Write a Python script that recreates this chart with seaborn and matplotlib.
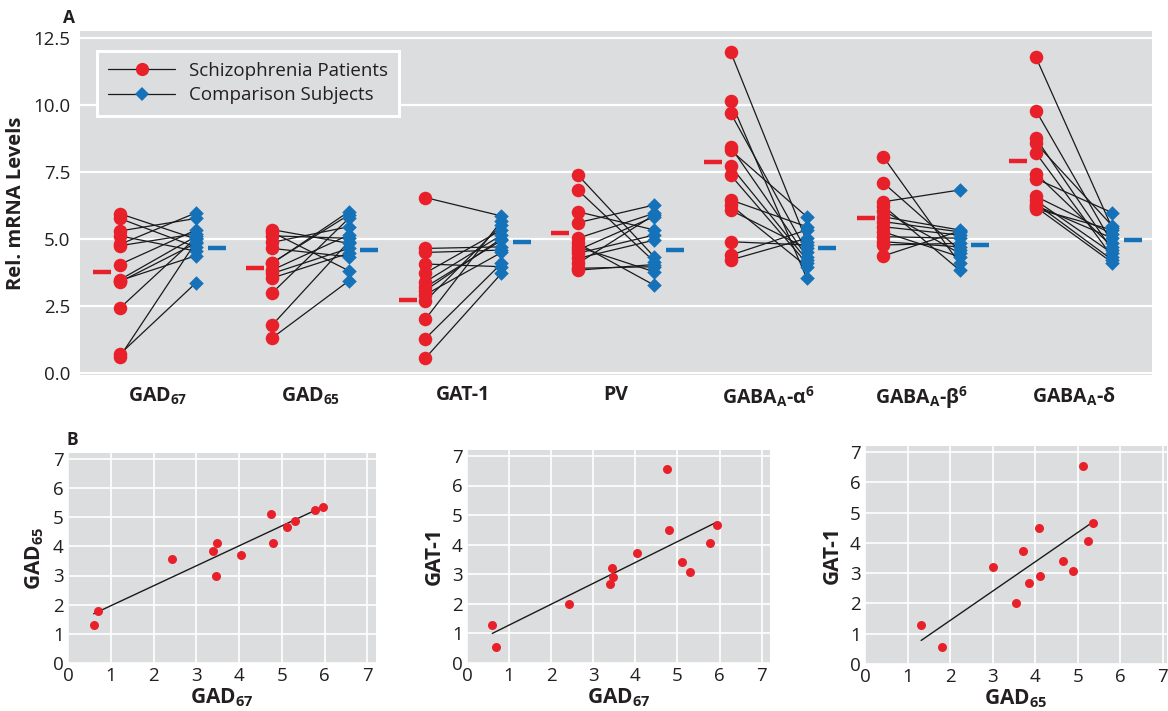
import numpy as np
import pandas as pd
import matplotlib
matplotlib.use("Agg")
import matplotlib.pyplot as plt
import seaborn as sns
from matplotlib.lines import Line2D

# ---------------- data ----------------
genes = ["GAD$_\\mathbf{67}$", "GAD$_\\mathbf{65}$", "GAT-1", "PV",
         "GABA$_\\mathbf{A}$-α$^\\mathbf{6}$", "GABA$_\\mathbf{A}$-β$^\\mathbf{6}$",
         "GABA$_\\mathbf{A}$-δ"]

# schizophrenia patients (subject order shared by the scatter panels)
gad67_pat = [0.60, 0.70, 2.42, 3.40, 3.45, 3.48, 4.05, 4.75, 4.80, 5.12, 5.30, 5.77, 5.95]
gad65_pat = [1.32, 1.80, 3.55, 3.85, 3.00, 4.12, 3.72, 5.12, 4.10, 4.65, 4.88, 5.25, 5.35]
gat1_pat = [1.28, 0.55, 2.00, 2.68, 3.20, 2.92, 3.73, 6.55, 4.50, 3.40, 3.08, 4.07, 4.65]
pv_pat = [7.39, 6.83, 6.02, 5.61, 5.03, 4.84, 4.71, 4.59, 4.47, 4.28, 4.09, 3.91, 3.84]
alpha_pat = [11.99, 10.16, 9.71, 8.44, 8.32, 7.72, 7.39, 6.46, 6.27, 6.08, 4.90, 4.40, 4.22]
beta_pat = [8.07, 7.10, 6.39, 6.24, 6.06, 5.83, 5.65, 5.46, 5.27, 5.09, 4.90, 4.78, 4.37]
delta_pat = [11.78, 9.79, 8.76, 8.57, 8.21, 7.44, 7.25, 6.59, 6.44, 6.32, 6.25, 6.19, 6.13]

# matched comparison subjects (same order as the patients above)
gad67_cmp = [4.90, 3.37, 5.05, 4.85, 4.38, 5.10, 5.34, 5.20, 5.98, 4.55, 5.77, 4.70, 5.00]
gad65_cmp = [3.44, 4.90, 4.47, 5.15, 5.77, 5.90, 4.65, 5.03, 6.02, 4.34, 5.46, 3.82, 4.84]
gat1_cmp = [4.09, 3.72, 5.68, 5.52, 4.95, 4.50, 5.34, 5.86, 4.59, 5.15, 5.02, 3.97, 4.71]
pv_cmp = [4.34, 4.16, 5.34, 6.27, 5.96, 3.28, 3.78, 5.84, 5.15, 4.96, 5.90, 3.97, 4.05]
alpha_cmp = [4.90, 3.53, 4.53, 4.34, 5.83, 4.22, 4.09, 5.46, 3.97, 4.65, 4.78, 5.34, 5.03]
beta_cmp = [4.09, 4.59, 6.83, 3.84, 4.47, 5.34, 5.27, 5.15, 4.34, 5.03, 4.71, 4.84, 5.30]
delta_cmp = [5.40, 4.84, 4.59, 5.49, 4.34, 4.71, 5.98, 5.19, 4.47, 4.22, 5.03, 4.12, 5.34]

# group means shown as short dashes
pat_means = [3.78, 3.91, 2.72, 5.21, 7.86, 5.80, 7.92]
cmp_means = [4.65, 4.58, 4.90, 4.59, 4.65, 4.78, 4.97]

pat_all = [gad67_pat, gad65_pat, gat1_pat, pv_pat, alpha_pat, beta_pat, delta_pat]
cmp_all = [gad67_cmp, gad65_cmp, gat1_cmp, pv_cmp, alpha_cmp, beta_cmp, delta_cmp]

# ---------------- style ----------------
RED = "#e8202a"
BLUE = "#1572b8"
BG = "#dcdddf"
TXT = "#231f20"

sns.set_theme(style="darkgrid")
plt.rcParams["font.family"] = ["Open Sans", "DejaVu Sans"]
plt.rcParams["mathtext.fontset"] = "custom"
plt.rcParams["mathtext.rm"] = "Open Sans"
plt.rcParams["mathtext.bf"] = "Open Sans:bold"
plt.rcParams["mathtext.it"] = "Open Sans:italic"
plt.rcParams["axes.facecolor"] = BG
plt.rcParams["grid.color"] = "white"
plt.rcParams["text.color"] = TXT
plt.rcParams["xtick.color"] = TXT
plt.rcParams["ytick.color"] = TXT
plt.rcParams["axes.labelcolor"] = TXT

W, H = 1168, 711
fig = plt.figure(figsize=(W / 100, H / 100), dpi=100)

def rect(l, t, r, b):
    return [l / W, 1 - b / H, (r - l) / W, (b - t) / H]

# ---------------- panel A ----------------
axA = fig.add_axes(rect(80, 31, 1152, 375))
P_OFF, C_OFF = -0.25, 0.25
rows = []
for gi in range(len(genes)):
    for si, (pv_, cv_) in enumerate(zip(pat_all[gi], cmp_all[gi])):
        rows.append(dict(pair=gi * 100 + si, grp="Patients", x=gi + P_OFF, val=pv_))
        rows.append(dict(pair=gi * 100 + si, grp="Comparison", x=gi + C_OFF, val=cv_))
long = pd.DataFrame(rows)

sns.lineplot(data=long, x="x", y="val", units="pair", estimator=None,
             color="#1a1a1a", lw=0.9, ax=axA, legend=False, zorder=2)
sns.scatterplot(data=long[long.grp == "Patients"], x="x", y="val", color=RED,
                marker="o", s=95, linewidth=0, ax=axA, zorder=3, legend=False)
sns.scatterplot(data=long[long.grp == "Comparison"], x="x", y="val", color=BLUE,
                marker="D", s=55, linewidth=0, ax=axA, zorder=3, legend=False)

means = pd.DataFrame(dict(gi=np.arange(len(genes)), pm=pat_means, cm=cmp_means))
means["px"] = means.gi - 0.365
means["cx"] = means.gi + 0.385
sns.scatterplot(data=means, x="px", y="pm", marker="_", s=150, linewidth=3.2,
                color=RED, ax=axA, legend=False, zorder=3)
sns.scatterplot(data=means, x="cx", y="cm", marker="_", s=150, linewidth=3.2,
                color=BLUE, ax=axA, legend=False, zorder=3)

axA.set_xlim(-0.51, 6.51)
axA.set_ylim(-0.07, 12.76)
axA.set_yticks(np.arange(0, 12.6, 2.5))
axA.set_yticklabels([f"{v:.1f}" for v in np.arange(0, 12.6, 2.5)], fontsize=13.5)
axA.set_xticks(range(len(genes)))
axA.set_xticklabels(genes, fontsize=14, fontweight="bold")
axA.grid(axis="x", visible=False)
axA.grid(axis="y", color="white", lw=1.6)
axA.tick_params(length=0, pad=7)
axA.set_xlabel("")
axA.set_ylabel("Rel. mRNA Levels", fontsize=14.5, fontweight="bold", labelpad=5)
for s in axA.spines.values():
    s.set_visible(False)

handles = [Line2D([0], [0], color="#1a1a1a", lw=0.9, marker="o", markersize=9.5,
                  markerfacecolor=RED, markeredgewidth=0),
           Line2D([0], [0], color="#1a1a1a", lw=0.9, marker="D", markersize=7.5,
                  markerfacecolor=BLUE, markeredgewidth=0)]
leg = axA.legend(handles, ["Schizophrenia Patients", "Comparison Subjects"],
                 loc="upper left", bbox_to_anchor=(0.0156, 0.943), borderaxespad=0,
                 fontsize=13.5, handlelength=3.6, handletextpad=0.7, labelspacing=0.35,
                 borderpad=0.6, fancybox=False, framealpha=1, facecolor=BG,
                 edgecolor="white")
leg.get_frame().set_linewidth(2.2)

fig.text(63 / W, 1 - 18 / H, "A", fontsize=12.5, fontweight="bold", va="center")
fig.text(67 / W, 1 - 440 / H, "B", fontsize=12.5, fontweight="bold", va="center")

# ---------------- panel B ----------------
scat = pd.DataFrame(dict(gad67=gad67_pat, gad65=gad65_pat, gat1=gat1_pat))
specs = [
    (rect(68, 453, 376, 663), "gad67", "gad65", "GAD$_\\mathbf{67}$", "GAD$_\\mathbf{65}$", 7.2),
    (rect(467, 450, 770, 663), "gad67", "gat1", "GAD$_\\mathbf{67}$", "GAT-1", 7.2),
    (rect(865, 446, 1167, 664), "gad65", "gat1", "GAD$_\\mathbf{65}$", "GAT-1", 7.1),
]
for pos, xc, yc, xl, yl, xmax in specs:
    ax = fig.add_axes(pos)
    sns.regplot(data=scat, x=xc, y=yc, ci=None, scatter=False, ax=ax,
                line_kws=dict(color="#1a1a1a", lw=1.0))
    sns.scatterplot(data=scat, x=xc, y=yc, color=RED, s=42, linewidth=0, ax=ax, zorder=3)
    ax.set_xlim(0, xmax)
    ax.set_ylim(0, 7.2)
    ax.set_xticks(range(8))
    ax.set_yticks(range(8))
    ax.tick_params(length=0, pad=3, labelsize=13.5)
    ax.grid(color="white", lw=1.2)
    ax.set_xlabel(xl, fontsize=15, fontweight="bold", labelpad=1)
    ax.set_ylabel(yl, fontsize=15, fontweight="bold", labelpad=5)
    for s in ax.spines.values():
        s.set_visible(False)

fig.savefig("out.png", dpi=100)
